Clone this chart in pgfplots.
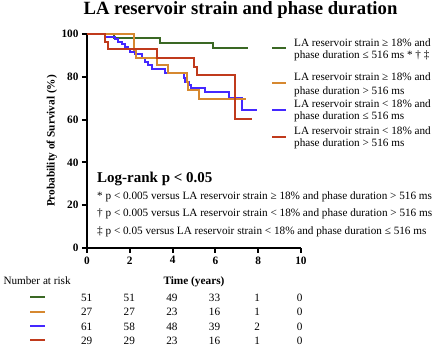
\documentclass[border=0pt]{standalone}
\usepackage{pgfplots}
\pgfplotsset{compat=1.18}
\usepackage{fontspec}
\setmainfont{Liberation Serif}
\definecolor{cgreen}{RGB}{58,104,36}
\definecolor{corange}{RGB}{214,136,48}
\definecolor{cblue}{RGB}{68,40,255}
\definecolor{cred}{RGB}{192,58,28}
\newcommand{\fs}{\fontsize{11.2}{12.5}\selectfont}
\newcommand{\fb}{\fontsize{11.3}{13}\selectfont\bfseries}
\begin{document}
\begin{tikzpicture}[x=1pt,y=1pt]
\useasboundingbox (0,0) rectangle (440,351);
\begin{axis}[
  at={(87pt,103pt)}, anchor=south west,
  scale only axis, width=214pt, height=214pt,
  xmin=0, xmax=10, ymin=0, ymax=100,
  axis lines=left, axis line style={-, line width=2pt},
  xtick={0,2,...,10}, ytick={0,20,...,100},
  tick align=outside, major tick length=5pt,
  tick style={line width=2pt, black},
  every tick label/.append style={font=\fb},
  /pgf/number format/assume math mode=true,
  ylabel={Probability of Survival (\%)},
  ylabel style={font=\fb, at={(axis description cs:-0.1636,0.5)}, anchor=center},
  xlabel={Time (years)},
  xlabel style={font=\fb, at={(axis description cs:0.5,-0.1729)}, anchor=base},
  clip=false,
  every axis plot/.append style={line width=2pt, const plot, mark=none},
]
\addplot[cgreen] coordinates {(0,100)(1.28,98.0)(3.41,95.9)(5.87,93.3)(7.54,93.3)};
\addplot[cblue] coordinates {(0,100)(0.84,98.8)(1.3,97.5)(1.46,96.4)(1.62,95.3)(1.76,94.1)(1.9,92.8)(2.03,91.7)(2.24,90.7)(2.59,88.6)(2.71,87.1)(2.85,85.5)(3.02,83.5)(3.64,81.6)(4.53,79.5)(4.6,77.7)(4.78,76.2)(4.88,74.6)(5.51,72.7)(6.65,70.2)(7.23,64.4)(7.96,64.4)};
\addplot[corange] coordinates {(0,100)(2.21,92.6)(2.3,88.7)(3.26,85.4)(3.8,81.6)(4.66,77.8)(4.72,73.8)(5.23,69.8)(7.43,69.8)};
\addplot[cred] coordinates {(0,100)(0.84,96.4)(0.97,92.8)(3.26,88.6)(5.0,84.7)(5.16,80.8)(6.92,60.3)(7.73,60.3)};
\end{axis}
% title
\node[anchor=base, inner sep=0pt, font=\fontsize{18.7}{20}\selectfont\bfseries] at (240.5,336) {LA reservoir strain and phase duration};
% legend
\draw[cgreen, line width=2pt] (272,303.3) -- (286,303.3);
\draw[corange, line width=2pt] (272,268) -- (286,268);
\draw[cblue, line width=2pt] (272,241) -- (286,241);
\draw[cred, line width=2pt] (272,214.3) -- (286,214.3);
\begin{scope}[every node/.style={anchor=base west, inner sep=0pt, font=\fs}]
\node at (294,304.6) {LA reservoir strain ≥ 18\% and};
\node at (294,292.3) {phase duration ≤ 516 ms * † ‡};
\node at (294,270) {LA reservoir strain ≥ 18\% and};
\node at (294,256.6) {phase duration > 516 ms};
\node at (294,243) {LA reservoir strain < 18\% and};
\node at (294,231.3) {phase duration ≤ 516 ms};
\node at (294,216.3) {LA reservoir strain < 18\% and};
\node at (294,204) {phase duration > 516 ms};
% footnotes
\node at (97,151.4) {* p < 0.005 versus LA reservoir strain ≥ 18\% and phase duration > 516 ms};
\node at (97,134) {† p < 0.005 versus LA reservoir strain < 18\% and phase duration > 516 ms};
\node at (97,116.6) {‡ p < 0.05 versus LA reservoir strain < 18\% and phase duration ≤ 516 ms};
\node[font=\fontsize{15}{17}\selectfont\bfseries] at (97,168) {Log-rank p < 0.05};
% number at risk
\node at (3.3,66.7) {Number at risk};
\end{scope}
\draw[cgreen, line width=2pt] (30,53.7) -- (45,53.7);
\draw[corange, line width=2pt] (30,39.3) -- (45,39.3);
\draw[cblue, line width=2pt] (30,25) -- (45,25);
\draw[cred, line width=2pt] (30,11) -- (45,11);
\begin{scope}[every node/.style={anchor=base, inner sep=0pt, font=\fs}]
\foreach \n [count=\i from 0] in {51,51,49,33,1,0} {\node at ({86.7+42.6*\i},49.5) {\n};}
\foreach \n [count=\i from 0] in {27,27,23,16,1,0} {\node at ({86.7+42.6*\i},35.2) {\n};}
\foreach \n [count=\i from 0] in {61,58,48,39,2,0} {\node at ({86.7+42.6*\i},20.8) {\n};}
\foreach \n [count=\i from 0] in {29,29,23,16,1,0} {\node at ({86.7+42.6*\i},6.5) {\n};}
\end{scope}
\end{tikzpicture}
\end{document}
